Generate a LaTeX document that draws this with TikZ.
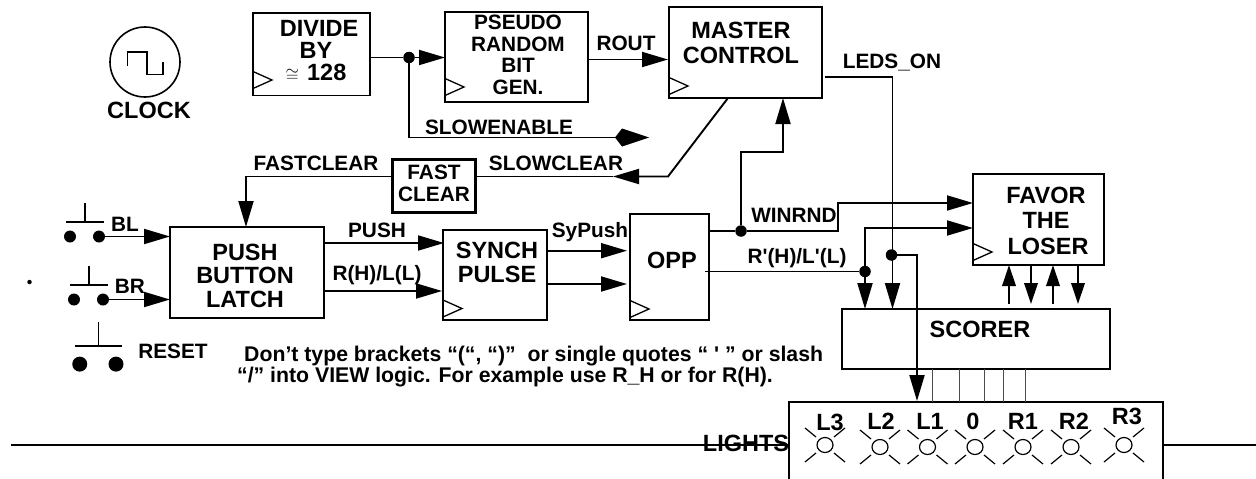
\documentclass[tikz,border=0pt]{standalone}
\usepackage{fontspec}
\setmainfont{Liberation Sans}
\usetikzlibrary{arrows.meta, positioning, calc}

\tikzset{
  >={Triangle[length=26pt,width=15pt]},
  wire/.style={line width=1.9pt},
  thinwire/.style={line width=1pt, black!70},
  blockbox/.style={draw, line width=1.9pt, inner sep=0pt, outer sep=0pt},
  joint/.style={circle, fill=black, inner sep=0pt, outer sep=0pt, minimum size=11.5pt},
  blocktext/.style={font=\bfseries\fontsize{23.5}{23.5}\selectfont, align=center, inner sep=0pt},
  smalltext/.style={font=\bfseries\fontsize{20.8}{21.5}\selectfont, align=center, inner sep=0pt},
  notetext/.style={font=\bfseries\fontsize{21.25}{21}\selectfont, inner sep=0pt, anchor=west},
  pics/clkmark/.style={code={\draw[line width=1.3pt] (0,-8.5) -- (19,0) -- (0,8.5);}},
  pics/lamp/.style={code={
    \draw[line width=1.2pt] (0,0) ellipse (8 and 7.5);
    \draw[line width=1.2pt] (-20,-17) -- (-9,-8);
    \draw[line width=1.2pt] (20,-17) -- (9,-8);
    \draw[line width=1.2pt] (-20,17) -- (-9,8);
    \draw[line width=1.2pt] (20,17) -- (9,8);
  }},
  pics/pushsw/.style={code={
    \draw[line width=2.2pt] (-19,0) -- (19,0);
    \draw[line width=1.9pt] (0,0) -- (0,-19);
    \fill (-15,14.5) circle (6);
    \fill (14,14.5) circle (6);
    \coordinate (-b) at (14,14.5);
  }},
}

\begin{document}
\begin{tikzpicture}[x=1pt, y=-1pt]
  \useasboundingbox (0,0) rectangle (1256,479);

  % Clock
  \node[draw, circle, line width=1.6pt, minimum size=70pt, inner sep=0pt] (clk) at (145,62) {};
  \draw[line width=1.6pt] (127.5,66) -- (127.5,52) -- (147,52) -- (147,74.5) -- (163,74.5) -- (163,62);
  \node[blocktext] (clklabel) at (149,110) {CLOCK};

  % Blocks
  \node[blockbox, minimum width=117pt, minimum height=82.5pt] (divide) at (311.5,54.2) {};
  \node[blockbox, minimum width=143pt, minimum height=90.5pt] (pseudo) at (516.5,56.9) {};
  \node[blockbox, minimum width=153pt, minimum height=91pt] (master) at (745.5,52.5) {};
  \node[blockbox, line width=3pt, minimum width=83pt, minimum height=53pt] (fast) at (433.5,185.5) {};
  \node[blockbox, minimum width=154pt, minimum height=91pt] (push) at (247,272.5) {};
  \node[blockbox, minimum width=104pt, minimum height=90pt] (synch) at (495,275) {};
  \node[blockbox, minimum width=79pt, minimum height=106pt] (opp) at (669.5,267) {};
  \node[blockbox, minimum width=131pt, minimum height=91pt] (favor) at (1038.5,219.5) {};
  \node[blockbox, minimum width=268pt, minimum height=60pt] (scorer) at (976,339) {};

  % Block texts
  \node[blocktext, font=\bfseries\fontsize{23.5}{22}\selectfont] (dividetext) at (316,51) {\hspace*{6pt}DIVIDE\\BY\hspace*{4pt}\\{\fontsize{17}{17}\selectfont$\cong$}\hspace{8pt}128};
  \node[smalltext] (pseudotext) at (518,55) {PSEUDO\\RANDOM\\BIT\\GEN.};
  \node[blocktext, font=\bfseries\fontsize{23.5}{25}\selectfont] (mastertext) at (741,42.5) {MASTER\\CONTROL};
  \node[smalltext] (fasttext) at (434,183.5) {FAST\\CLEAR};
  \node[blocktext] (pushtext) at (245,275.5) {PUSH\\BUTTON\\LATCH};
  \node[blocktext] (synchtext) at (497,262.5) {SYNCH\\PULSE};
  \node[blocktext] (opptext) at (672,260) {OPP};
  \node[blocktext, font=\bfseries\fontsize{23.5}{25.5}\selectfont] (favortext) at (1046,220.5) {FAVOR\\THE\hspace*{10pt}\\\hspace*{4pt}LOSER};
  \node[blocktext] (scorertext) at (980,329) {SCORER};

  % Clock marks
  \pic at (253,80) {clkmark};
  \pic at (445,87) {clkmark};
  \pic at (669,86) {clkmark};
  \pic at (443,308.5) {clkmark};
  \pic at (630,309) {clkmark};
  \pic at (973,252) {clkmark};

  % Joints
  \node[joint] (j1) at (409,57.5) {};
  \node[joint] (j2) at (741,231) {};
  \node[joint] (j3) at (865,271.5) {};
  \node[joint] (j4) at (891.5,255) {};
  \node[joint, minimum size=4.5pt] (spot) at (29.5,282) {};

  % Corners
  \coordinate (se) at (409,137.5);
  \coordinate (see) at (649,137.5);
  \coordinate (rout) at (668,59.5);
  \coordinate (mb) at (728,98);
  \coordinate (sc) at (668,176.5);
  \coordinate (st) at (613,176.5);
  \coordinate (fc) at (246,176.5);
  \coordinate (pu) at (444,243);
  \coordinate (rl) at (442,291);
  \coordinate (sy) at (627,250.7);
  \coordinate (sy2) at (627,284);
  \coordinate (ma) at (783,152);
  \coordinate (wr) at (838,203);
  \coordinate (oo) at (705,271.5);
  \coordinate (fa) at (865,228);
  \coordinate (lo) at (825,77);
  \coordinate (lc) at (892.5,77);
  \coordinate (js) at (917,255);
  \coordinate (jt) at (917,401);

  % Connections
  \draw[wire] (divide.east |- j1) -- (j1);
  \draw[wire, ->] (j1) -- (pseudo.west |- j1);
  \draw[wire, -{Kite[length=34pt,width=18pt,inset=7pt]}] (j1) -- (se) -- (see);
  \draw[wire, ->] (pseudo.east |- rout) -- (rout);
  \draw[wire, ->] (mb) -- (sc) -- (st);
  \draw[wire] (st) -- (fast.east |- st);
  \draw[wire, ->] (fast.west |- fc) -- (fc) -- (push.north -| fc);
  \draw[wire, ->] (push.east |- pu) -- (pu);
  \draw[wire, ->] (push.east |- rl) -- (rl);
  \draw[wire, ->] (synch.east |- sy) -- (sy);
  \draw[wire, ->] (synch.east |- sy2) -- (sy2);
  \draw[wire] (opp.east |- j2) -- (j2);
  \draw[wire, ->] (j2) |- (ma) -- (master.south -| ma);
  \draw[wire, ->] (j2) -| (wr) -- (favor.west |- wr);
  \draw[wire] (oo) -- (j3);
  \draw[wire, ->] (j3) -- (fa) -- (favor.west |- fa);
  \draw[wire, ->] (j3) -- (scorer.north -| j3);
  \draw[wire, ->] (lo) -- (lc) -- (scorer.north -| lc);
  \draw[wire, ->] (j4) -- (js) -- (jt);

  % Favor and scorer
  \coordinate (f1) at (1009,265);
  \coordinate (f2) at (1031,265);
  \coordinate (f3) at (1053,265);
  \coordinate (f4) at (1078,265);
  \tikzset{>={Triangle[length=21pt,width=13.5pt]}}
  \draw[wire, ->, shorten <=5pt] (scorer.north -| f1) -- (f1);
  \draw[wire, ->, shorten >=5pt] (f2) -- (scorer.north -| f2);
  \draw[wire, ->, shorten <=5pt] (scorer.north -| f3) -- (f3);
  \draw[wire, ->, shorten >=5pt] (f4) -- (scorer.north -| f4);
  \tikzset{>={Triangle[length=26pt,width=15pt]}}

  % Switches
  \pic (bl) at (85,222) {pushsw};
  \pic (br) at (89,285) {pushsw};
  \pic[scale=1.25] (rs) at (98.5,346) {pushsw};
  \draw[wire, ->] (bl-b) -- (push.west |- bl-b);
  \draw[wire, ->] (br-b) -- (push.west |- br-b);

  % Signal labels
  \node[smalltext] (lrout) at (626,43) {ROUT};
  \node[smalltext] (lleds) at (892,63) {LEDS\_ON};
  \node[smalltext] (lslowen) at (499,127) {SLOWENABLE};
  \node[smalltext] (lslowcl) at (556,163) {SLOWCLEAR};
  \node[smalltext] (lfastcl) at (316,163) {FASTCLEAR};
  \node[smalltext] (lbl) at (125,224) {BL};
  \node[smalltext] (lbr) at (130,286) {BR};
  \node[smalltext] (lreset) at (173,351) {RESET};
  \node[smalltext] (lpush) at (377,230) {PUSH};
  \node[smalltext] (lrh) at (377,275) {R(H)/L(L)};
  \node[smalltext] (lsypush) at (590,232) {SyPush};
  \node[smalltext] (lwin) at (794,215) {WINRND};
  \node[smalltext] (lrph) at (797,258) {R\textquotesingle(H)/L\textquotesingle(L)};

  % Note
  \node[notetext] (note1) at (244,356) {Don’t type brackets “(“, “)”\ \ or single quotes “ \textquotesingle\ ” or slash};
  \node[notetext] (note2) at (237,377) {“/” into VIEW logic. For example use R\_H or for R(H).};

  % Lights
  \coordinate (lb1) at (789,479);
  \coordinate (lt1) at (789,402);
  \coordinate (lt2) at (1163,402);
  \coordinate (lb2) at (1163,479);
  \draw[line width=1.4pt] (lb1) -- (lt1) -- (lt2) -- (lb2);
  \coordinate (h1) at (11,445);
  \coordinate (h2) at (789,445);
  \coordinate (h3) at (1163,445);
  \coordinate (h4) at (1256,445);
  \draw[wire] (h1) -- (h2);
  \draw[wire] (h3) -- (h4);
  \node[blocktext] (llights) at (746,443) {LIGHTS};
  \coordinate (k1) at (932,402);
  \coordinate (k2) at (959,402);
  \coordinate (k3) at (984,402);
  \coordinate (k4) at (1003.5,402);
  \coordinate (k5) at (1025.5,402);
  \draw[thinwire] (scorer.south -| k1) -- (k1);
  \draw[thinwire] (scorer.south -| k2) -- (k2);
  \draw[thinwire] (scorer.south -| k3) -- (k3);
  \draw[thinwire] (scorer.south -| k4) -- (k4);
  \draw[thinwire] (scorer.south -| k5) -- (k5);
  \pic at (825,445) {lamp};
  \pic at (880,447) {lamp};
  \pic at (927.5,447) {lamp};
  \pic at (975,447) {lamp};
  \pic at (1023,447) {lamp};
  \pic at (1071,447) {lamp};
  \pic at (1124,445) {lamp};
  \node[blocktext] (l3) at (830,422) {L3};
  \node[blocktext] (l2) at (881,421) {L2};
  \node[blocktext] (l1) at (930,421) {L1};
  \node[blocktext] (l0) at (973,421) {0};
  \node[blocktext] (r1) at (1023,421) {R1};
  \node[blocktext] (r2) at (1074,421) {R2};
  \node[blocktext] (r3) at (1127,416) {R3};
\end{tikzpicture}
\end{document}
